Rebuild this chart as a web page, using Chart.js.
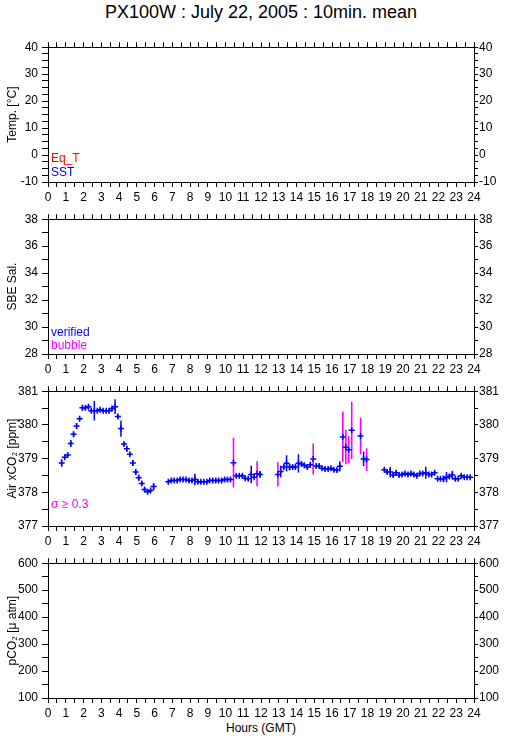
<!DOCTYPE html>
<html lang="en">
<head>
<meta charset="UTF-8">
<title>PX100W : July 22, 2005</title>
<script src="https://cdn.jsdelivr.net/npm/chart.js"></script>
<style>
  body { margin: 0; background: #fff; font-family: "Liberation Sans", Arial, sans-serif; }
  #wrap { position: relative; width: 509px; height: 739px; }
  canvas { position: absolute; left: 0; }
  .txt { position: absolute; font-size: 12px; line-height: 14px; white-space: nowrap; }
  #titulo { position: absolute; top: 2px; left: 0; width: 522px; text-align: center; font-size: 18px; }
  #rodape { position: absolute; top: 721px; left: 0; width: 522px; text-align: center; font-size: 12px; }
</style>
</head>
<body>
<div id="wrap">
  <div id="titulo">PX100W : July 22, 2005 : 10min. mean</div>
  <canvas id="g1" width="509" height="168" style="top:36px"></canvas>
  <canvas id="g2" width="509" height="168" style="top:208px"></canvas>
  <canvas id="g3" width="509" height="168" style="top:380px"></canvas>
  <canvas id="g4" width="509" height="168" style="top:552px"></canvas>
  <div class="txt" style="left:51px;top:151px;color:#ff0000">Eq_T</div>
  <div class="txt" style="left:51px;top:165px;color:#0000ff">SST</div>
  <div class="txt" style="left:51px;top:325px;color:#0000ff">verified</div>
  <div class="txt" style="left:51px;top:338px;color:#ff00ff">bubble</div>
  <div class="txt" style="left:51px;top:497px;color:#ff00ff">σ ≥ 0.3</div>
  <div id="rodape">Hours (GMT)</div>
</div>

<script>
  // horas (GMT) das médias de 10 min
  const horas = [
    0.77, 0.94, 1.11, 1.28, 1.44, 1.61, 1.78, 1.94, 2.11, 2.28, 2.44, 2.61, 2.78, 2.94, 3.11, 3.28,
    3.44, 3.61, 3.78, 3.94, 4.11, 4.28, 4.44, 4.61, 4.78, 4.94, 5.11, 5.28, 5.44, 5.61, 5.78, 5.95,
    6.78, 6.95, 7.11, 7.28, 7.45, 7.61, 7.78, 7.95, 8.11, 8.28, 8.45, 8.61, 8.78, 8.95, 9.11, 9.28,
    9.45, 9.61, 9.78, 9.95, 10.11, 10.28, 10.45, 10.61, 10.78, 10.95, 11.11, 11.28, 11.45, 11.61,
    11.78, 11.95,
    12.95, 13.11, 13.28, 13.44, 13.61, 13.78, 13.94, 14.11, 14.28, 14.44, 14.61, 14.78, 14.94,
    15.11, 15.28, 15.44, 15.61, 15.78, 15.94, 16.11, 16.28, 16.44, 16.61, 16.78, 16.94, 17.11,
    17.61, 17.78, 17.95,
    18.95, 19.11, 19.28, 19.45, 19.61, 19.78, 19.95, 20.11, 20.28, 20.45, 20.61, 20.78, 20.95,
    21.11, 21.28, 21.45, 21.61, 21.78, 21.95, 22.11, 22.28, 22.45, 22.61, 22.78, 22.95, 23.11,
    23.28, 23.45, 23.61, 23.78
  ];

  // Air xCO2 [ppm]
  const xco2Ar = [
    378.87, 379.04, 379.11, 379.45, 379.72, 379.97, 380.18, 380.51, 380.51, 380.54, 380.42, 380.42,
    380.42, 380.45, 380.42, 380.42, 380.42, 380.49, 380.54, 380.25, 379.89, 379.43, 379.29, 379.13,
    378.87, 378.60, 378.43, 378.26, 378.08, 378.02, 378.05, 378.17,
    378.31, 378.35, 378.35, 378.35, 378.38, 378.38, 378.38, 378.35, 378.35, 378.38, 378.31, 378.31,
    378.31, 378.31, 378.35, 378.35, 378.35, 378.35, 378.35, 378.38, 378.38, 378.38, 378.88, 378.49,
    378.49, 378.49, 378.42, 378.40, 378.53, 378.45, 378.55, 378.53,
    378.53, 378.62, 378.75, 378.86, 378.75, 378.75, 378.75, 378.86, 378.84, 378.80, 378.75, 378.82,
    378.99, 378.78, 378.78, 378.71, 378.69, 378.69, 378.71, 378.67, 378.66, 378.77, 379.64, 379.34,
    379.26, 379.84,
    379.67, 378.99, 378.97,
    378.67, 378.60, 378.60, 378.51, 378.58, 378.51, 378.53, 378.56, 378.53, 378.56, 378.53, 378.49,
    378.56, 378.56, 378.58, 378.53, 378.53, 378.58, 378.40, 378.40, 378.40, 378.45, 378.47, 378.51,
    378.40, 378.40, 378.49, 378.45, 378.45, 378.45
  ];

  // desvio padrão (meia altura da barra)
  const sigma = [
    0.11, 0.06, 0.05, 0.10, 0.08, 0.08, 0.06, 0.08, 0.06, 0.06, 0.06, 0.29, 0.05, 0.05, 0.05, 0.05,
    0.05, 0.06, 0.22, 0.06, 0.24, 0.05, 0.08, 0.05, 0.08, 0.08, 0.08, 0.06, 0.06, 0.05, 0.05, 0.10,
    0.05, 0.05, 0.05, 0.05, 0.05, 0.05, 0.05, 0.05, 0.05, 0.17, 0.05, 0.05, 0.05, 0.05, 0.05, 0.05,
    0.05, 0.05, 0.05, 0.05, 0.05, 0.05, 0.74, 0.06, 0.05, 0.05, 0.05, 0.05, 0.26, 0.05, 0.37, 0.10,
    0.36, 0.17, 0.08, 0.24, 0.10, 0.06, 0.06, 0.27, 0.06, 0.06, 0.05, 0.05, 0.46, 0.06, 0.06, 0.05,
    0.05, 0.05, 0.05, 0.05, 0.05, 0.15, 0.75, 0.51, 0.40, 0.85,
    0.54, 0.22, 0.34,
    0.06, 0.06, 0.15, 0.06, 0.06, 0.05, 0.05, 0.05, 0.05, 0.06, 0.05, 0.05, 0.05, 0.05, 0.18, 0.06,
    0.05, 0.06, 0.05, 0.05, 0.10, 0.15, 0.06, 0.13, 0.05, 0.05, 0.06, 0.05, 0.05, 0.05
  ];

  const LIMITE = 0.3;
  const AZUL = '#0000ff';
  const MAGENTA = '#ff00ff';

  Chart.defaults.font.family = '"Liberation Sans", Arial, sans-serif';
  Chart.defaults.font.size = 12;
  Chart.defaults.color = '#000';

  function barras(filtro) {
    const pts = [];
    for (let i = 0; i < horas.length; i++) {
      if (filtro(sigma[i])) {
        pts.push({ x: horas[i], y: xco2Ar[i] - sigma[i] });
        pts.push({ x: horas[i], y: xco2Ar[i] + sigma[i] });
        pts.push({ x: horas[i], y: null });
      }
    }
    return pts;
  }

  function eixos(yMin, yMax, passo, passoRotulo, titulo) {
    const rotulo = function (v) {
      const k = Math.round((v - yMin) / passoRotulo * 1000) / 1000;
      return Number.isInteger(k) ? v : '';
    };
    const grade = { drawOnChartArea: false, tickLength: 5, color: '#000' };
    return {
      x: {
        type: 'linear', position: 'bottom', min: 0, max: 24,
        afterFit: s => { s.height = 22; },
        ticks: { stepSize: 0.5, autoSkip: false, maxRotation: 0, padding: 3,
          callback: v => Number.isInteger(v) ? v : '' },
        grid: grade, border: { color: '#000' }
      },
      xTopo: {
        type: 'linear', position: 'top', min: 0, max: 24,
        afterFit: s => { s.height = 8; },
        ticks: { display: false, stepSize: 0.5, autoSkip: false },
        grid: grade, border: { color: '#000' }
      },
      y: {
        type: 'linear', position: 'left', min: yMin, max: yMax,
        afterFit: s => { s.width = 48; },
        ticks: { stepSize: passo, autoSkip: false, padding: 4, callback: rotulo },
        title: { display: true, text: titulo, padding: { top: 5, bottom: 0 } },
        grid: { drawOnChartArea: false, tickLength: 6, color: '#000' }, border: { color: '#000' }
      },
      yDir: {
        type: 'linear', position: 'right', min: yMin, max: yMax,
        afterFit: s => { s.width = 35; },
        ticks: { stepSize: passo, autoSkip: false, padding: 1, callback: rotulo },
        grid: { drawOnChartArea: false, tickLength: 4, color: '#000' }, border: { color: '#000' }
      }
    };
  }

  function grafico(id, datasets, escalas) {
    new Chart(document.getElementById(id), {
      type: 'scatter',
      data: { datasets: datasets },
      options: {
        responsive: false,
        animation: false,
        devicePixelRatio: 1,
        layout: { padding: 0 },
        plugins: { legend: { display: false }, tooltip: { enabled: false } },
        scales: escalas
      }
    });
  }

  grafico('g1', [], eixos(-10, 40, 2.5, 10, 'Temp. [°C]'));
  grafico('g2', [], eixos(28, 38, 1, 2, 'SBE Sal.'));

  grafico('g3', [
    {
      type: 'line', data: barras(s => s < LIMITE), xAxisID: 'x', yAxisID: 'y',
      borderColor: AZUL, borderWidth: 1.5, pointRadius: 0, spanGaps: false, order: 3
    },
    {
      type: 'line', data: barras(s => s >= LIMITE), xAxisID: 'x', yAxisID: 'y',
      borderColor: MAGENTA, borderWidth: 1.6, pointRadius: 0, spanGaps: false, order: 2
    },
    {
      data: horas.map((h, i) => ({ x: h, y: xco2Ar[i] })), xAxisID: 'x', yAxisID: 'y',
      pointStyle: 'cross', pointRadius: 3, borderColor: AZUL, borderWidth: 1.5, order: 1
    }
  ], eixos(377, 381, 0.5, 1, 'Air xCO₂ [ppm]'));

  grafico('g4', [], eixos(100, 600, 50, 100, 'pCO₂ [μ atm]'));
</script>
</body>
</html>
